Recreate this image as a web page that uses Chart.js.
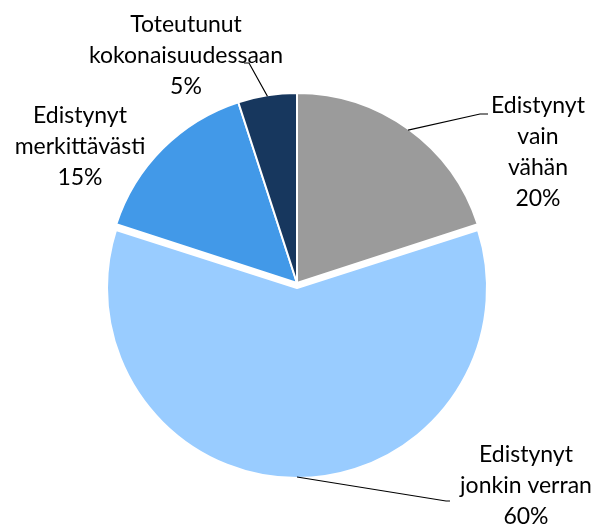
<!DOCTYPE html>
<html>
<head>
<meta charset="utf-8">
<script src="https://cdn.jsdelivr.net/npm/chart.js@4.4.1/dist/chart.umd.min.js"></script>
<style>
  html, body { margin: 0; padding: 0; background: #ffffff; }
  #wrap { width: 599px; height: 525px; }
</style>
</head>
<body>
<div id="wrap"><canvas id="c" width="599" height="525"></canvas></div>
<script>
// ---- data ----
const categories = ['Edistynyt vain vähän', 'Edistynyt jonkin verran', 'Edistynyt merkittävästi', 'Toteutunut kokonaisuudessaan'];
const values = [20, 60, 15, 5];
const labelLines = [
  ['Edistynyt', 'vain', 'vähän'],
  ['Edistynyt', 'jonkin verran'],
  ['Edistynyt', 'merkittävästi'],
  ['Toteutunut', 'kokonaisuudessaan']
];

// ---- style / layout ----
const colors = ['#9B9B9B', '#99CCFF', '#4299E8', '#17375E'];
const offsets = [0, 20, 0, 0];
const FONT = '23px Lato';
const LINE_H = 31;
// label anchor: centre x, first baseline y; elbow: leader line bend points (from label side)
const labelLayout = [
  { x: 538, y: 113, elbow: [[488, 114], [480, 114]] },
  { x: 526, y: 462, elbow: [[450, 501], [446, 501]] },
  { x: 80,  y: 123, elbow: null },
  { x: 186, y: 32,  elbow: [[244, 63], [249, 63]] }
];

// keep exploded slice at the same radius (Chart.js grows exploded arcs)
const explodeFix = {
  id: 'explodeFix',
  beforeDatasetDraw(chart) {
    chart.getDatasetMeta(0).data.forEach((arc, i) => {
      const off = (offsets[i] || 0) / 4;
      arc._origR = arc.outerRadius;
      arc.outerRadius = arc.outerRadius - off;
    });
  },
  afterDatasetDraw(chart) {
    chart.getDatasetMeta(0).data.forEach((arc) => {
      arc.outerRadius = arc._origR;
    });
  }
};

const labelPlugin = {
  id: 'pieLabels',
  afterDraw(chart) {
    const ctx = chart.ctx;
    const meta = chart.getDatasetMeta(0);
    const total = values.reduce((a, b) => a + b, 0);
    ctx.save();
    meta.data.forEach((arc, i) => {
      const p = arc.getProps(['x', 'y', 'startAngle', 'endAngle', 'outerRadius'], true);
      const mid = (p.startAngle + p.endAngle) / 2;
      const off = (offsets[i] || 0) / 4;
      const cx = p.x + Math.cos(mid) * off;
      const cy = p.y + Math.sin(mid) * off;
      const L = labelLayout[i];
      if (L.elbow) {
        const sx = cx + Math.cos(mid) * (p.outerRadius - 1);
        const sy = cy + Math.sin(mid) * (p.outerRadius - 1);
        ctx.beginPath();
        ctx.strokeStyle = '#000000';
        ctx.lineWidth = 1.2;
        ctx.moveTo(L.elbow[0][0], L.elbow[0][1]);
        ctx.lineTo(L.elbow[1][0], L.elbow[1][1]);
        ctx.lineTo(sx, sy);
        ctx.stroke();
      }
      const lines = labelLines[i].concat([Math.round(values[i] / total * 100) + '%']);
      ctx.fillStyle = '#000000';
      ctx.font = FONT;
      ctx.textAlign = 'center';
      ctx.textBaseline = 'alphabetic';
      lines.forEach((t, k) => ctx.fillText(t, L.x, L.y + k * LINE_H));
    });
    ctx.restore();
  }
};

new Chart(document.getElementById('c'), {
  type: 'pie',
  data: {
    labels: categories,
    datasets: [{
      data: values,
      backgroundColor: colors,
      borderColor: '#ffffff',
      borderWidth: 2,
      offset: offsets
    }]
  },
  options: {
    responsive: false,
    animation: false,
    radius: 190,
    layout: { padding: { left: 0, right: 5, top: 41, bottom: 0 } },
    plugins: { legend: { display: false }, tooltip: { enabled: false } }
  },
  plugins: [explodeFix, labelPlugin]
});
</script>
</body>
</html>
